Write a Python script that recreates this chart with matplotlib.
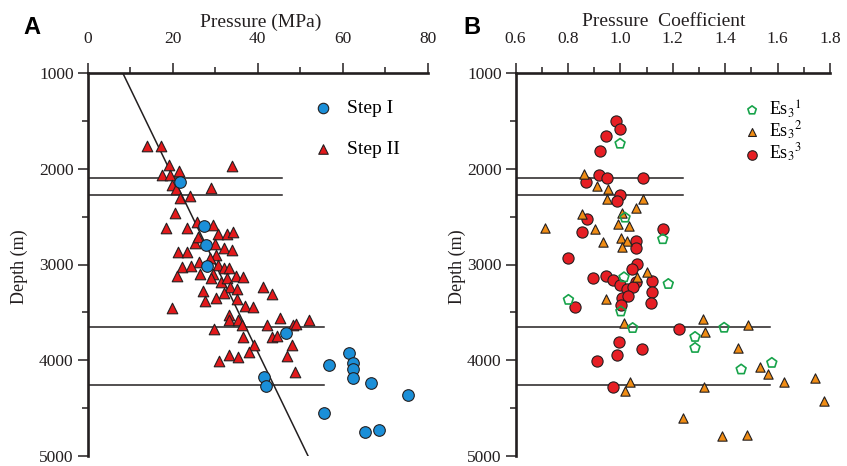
import matplotlib
matplotlib.use('Agg')
import matplotlib.pyplot as plt
from matplotlib.ticker import MultipleLocator, FormatStrFormatter

plt.rcParams['font.family'] = ['Liberation Serif', 'DejaVu Serif']
plt.rcParams['mathtext.fontset'] = 'stix'

# ---- Panel A: pressure (MPa) vs depth (m) ----
step1_p = [21.8, 27.4, 27.9, 28.0, 46.7, 41.6, 42.1, 56.9, 61.6, 62.4, 62.5,
           62.4, 66.6, 75.4, 55.7, 65.2, 68.7]
step1_d = [2140, 2603, 2797, 3016, 3712, 4179, 4266, 4052, 3923, 4027, 4093,
           4190, 4242, 4363, 4550, 4751, 4730]

step2_p = [13.9, 17.3, 34.0, 19.1, 21.5, 17.5, 19.4, 19.8, 20.8, 29.1,
           21.8, 24.1, 20.6, 18.5, 23.3, 25.7, 29.5, 30.8, 32.9, 34.2,
           25.3, 26.1, 30.0, 32.2, 33.9, 21.4, 23.5, 30.2, 28.8, 26.3,
           22.2, 24.4, 30.8, 32.1, 33.4, 21.1, 26.5, 29.6, 34.9, 36.7,
           29.1, 31.3, 32.9, 33.5, 35.1, 32.1, 41.2, 43.3, 27.1, 27.6,
           30.2, 35.2, 37.1, 39.0, 19.8, 33.4, 33.4, 35.5, 36.3, 45.3,
           42.3, 48.4, 49.1, 52.2, 29.8, 36.5, 43.3, 44.7, 39.2, 48.1,
           38.1, 47.0, 31.0, 33.4, 35.5, 48.8]
step2_d = [1766, 1758, 1974, 1966, 2025, 2067, 2070, 2174, 2216, 2198,
           2302, 2285, 2458, 2624, 2614, 2551, 2590, 2683, 2683, 2659,
           2777, 2717, 2787, 2832, 2846, 2873, 2873, 2901, 2936, 2977,
           3029, 3013, 3005, 3040, 3040, 3116, 3099, 3099, 3123, 3133,
           3143, 3185, 3143, 3237, 3255, 3296, 3237, 3307, 3272, 3376,
           3351, 3359, 3434, 3445, 3455, 3532, 3584, 3584, 3636, 3559,
           3629, 3629, 3618, 3584, 3677, 3757, 3757, 3746, 3844, 3844,
           3912, 3954, 4010, 3948, 3964, 4120]

trend_p = [8.3, 51.9]
trend_d = [1000, 5000]

# boundary depths and how far each line reaches in the two panels
bound_d = [2100, 2270, 3650, 4255]
bound_end_a = [45.8, 45.8, 55.6, 55.6]
bound_end_b = [1.238, 1.238, 1.571, 1.571]

# ---- Panel B: pressure coefficient vs depth ----
es1_c = [0.999, 1.018, 1.162, 1.014, 1.183, 0.802, 1.002, 1.047, 1.285,
         1.285, 1.396, 1.461, 1.578]
es1_d = [1738, 2510, 2735, 3133, 3203, 3369, 3490, 3663, 3756,
         3871, 3660, 4096, 4027]

es2_c = [0.861, 0.912, 0.954, 0.950, 1.085, 1.060, 1.005, 0.853, 0.713,
         0.903, 0.992, 1.034, 0.933, 1.002, 1.024, 1.005, 1.101, 1.065,
         0.945, 1.014, 1.037, 1.018, 1.240, 1.314, 1.323, 1.489, 1.450,
         1.533, 1.565, 1.626, 1.743, 1.777, 1.319, 1.387, 1.485]
es2_d = [2060, 2181, 2208, 2312, 2312, 2413, 2458, 2475, 2624,
         2631, 2579, 2597, 2763, 2728, 2753, 2821, 3075, 3133,
         3359, 3608, 4224, 4322, 4598, 3574, 3704, 3629, 3871,
         4068, 4148, 4224, 4190, 4421, 4276, 4796, 4779]

es3_c = [0.984, 0.999, 0.945, 0.922, 0.918, 0.948, 1.085, 0.869, 0.999,
         0.986, 0.874, 0.853, 1.164, 1.060, 1.060, 0.802, 1.065, 1.044,
         0.895, 0.945, 0.971, 0.999, 1.060, 1.120, 1.024, 1.050, 1.120,
         1.005, 1.031, 1.116, 1.002, 0.827, 1.225, 0.995, 1.082, 0.986,
         0.912, 0.973]
es3_d = [1506, 1582, 1662, 1810, 2070, 2094, 2101, 2140, 2278,
         2337, 2527, 2659, 2631, 2753, 2829, 2936, 2995, 3047,
         3143, 3116, 3158, 3213, 3185, 3168, 3255, 3237, 3289,
         3351, 3330, 3403, 3421, 3445, 3677, 3808, 3878, 3948,
         4010, 4276]

ink = '#231f20'
W, H = 847, 466
fig = plt.figure(figsize=(W / 100, H / 100), dpi=100)

def px_axes(x0, x1, y0, y1):
    return fig.add_axes([x0 / W, 1 - y1 / H, (x1 - x0) / W, (y1 - y0) / H])

def style(ax):
    for s in ['right', 'bottom']:
        ax.spines[s].set_visible(False)
    for s in ['left', 'top']:
        ax.spines[s].set_linewidth(1.9)
        ax.spines[s].set_color(ink)
    ax.xaxis.tick_top()
    ax.set_ylim(5000, 1000)
    ax.yaxis.set_major_locator(MultipleLocator(1000))
    ax.yaxis.set_minor_locator(MultipleLocator(500))
    ax.tick_params(which='both', direction='out', color=ink, width=1.1,
                   labelsize=12.5, labelcolor=ink)
    ax.tick_params(axis='y', which='major', length=7, pad=3)
    ax.tick_params(axis='y', which='minor', length=4)
    ax.tick_params(axis='x', which='major', length=7, pad=11.5)
    ax.tick_params(axis='x', which='minor', length=4)

# Panel A
axA = px_axes(87.5, 427.5, 73, 456)
style(axA)
axA.set_xlim(0, 80)
axA.xaxis.set_major_locator(MultipleLocator(20))
axA.xaxis.set_minor_locator(MultipleLocator(10))
axA.plot(trend_p, trend_d, color=ink, lw=1.1, zorder=1)
for d, e in zip(bound_d, bound_end_a):
    axA.plot([0, e], [d, d], color=ink, lw=1.1, zorder=1)
axA.scatter(step1_p, step1_d, s=70, marker='o', facecolor='#1b8fd8',
            edgecolor=ink, linewidth=0.8, zorder=3, label='Step I')
axA.scatter(step2_p, step2_d, s=58, marker='^', facecolor='#e3191b',
            edgecolor=ink, linewidth=0.8, zorder=2, label='Step II')
axA.legend(loc='upper left', bbox_to_anchor=(303.5 / W, 1 - 90 / H),
           bbox_transform=fig.transFigure, frameon=False, fontsize=14,
           labelspacing=1.2, handletextpad=0.74, borderpad=0,
           handlelength=1.0, markerscale=0.9)

# Panel B
axB = px_axes(515.5, 830, 73, 456)
style(axB)
axB.set_xlim(0.6, 1.8)
axB.xaxis.set_major_locator(MultipleLocator(0.2))
axB.xaxis.set_minor_locator(MultipleLocator(0.1))
axB.xaxis.set_major_formatter(FormatStrFormatter('%.1f'))
for d, e in zip(bound_d, bound_end_b):
    axB.plot([0.6, e], [d, d], color=ink, lw=1.1, zorder=1)
axB.scatter(es1_c, es1_d, s=55, marker='p', facecolor='none',
            edgecolor='#17a34a', linewidth=1.2, zorder=4,
            label=r'Es$_3$$^1$')
axB.scatter(es2_c, es2_d, s=45, marker='^', facecolor='#f08c14',
            edgecolor=ink, linewidth=0.8, zorder=3, label=r'Es$_3$$^2$')
axB.scatter(es3_c, es3_d, s=65, marker='o', facecolor='#e61e24',
            edgecolor=ink, linewidth=0.8, zorder=2, label=r'Es$_3$$^3$')
axB.legend(loc='upper left', bbox_to_anchor=(734 / W, 1 - 89 / H),
           bbox_transform=fig.transFigure, frameon=False, fontsize=13,
           labelspacing=0.0, handletextpad=0.45, borderpad=0,
           handlelength=1.0, markerscale=0.85)

# titles and labels
fig.text(261 / W, 1 - 22 / H, 'Pressure (MPa)', ha='center', va='center',
         fontsize=14, color=ink)
fig.text(664 / W, 1 - 22 / H, 'Pressure  Coefficient', ha='center',
         va='center', fontsize=14, color=ink)
fig.text(19 / W, 1 - 267 / H, 'Depth (m)', rotation=90, ha='center',
         va='center', fontsize=13, color=ink)
fig.text(457 / W, 1 - 267 / H, 'Depth (m)', rotation=90, ha='center',
         va='center', fontsize=13, color=ink)
fig.text(32 / W, 1 - 27 / H, 'A', ha='center', va='center', fontsize=17,
         fontweight='bold', family='Liberation Sans', color='black')
fig.text(472 / W, 1 - 27 / H, 'B', ha='center', va='center', fontsize=17,
         fontweight='bold', family='Liberation Sans', color='black')

fig.savefig('out.png', dpi=100)
